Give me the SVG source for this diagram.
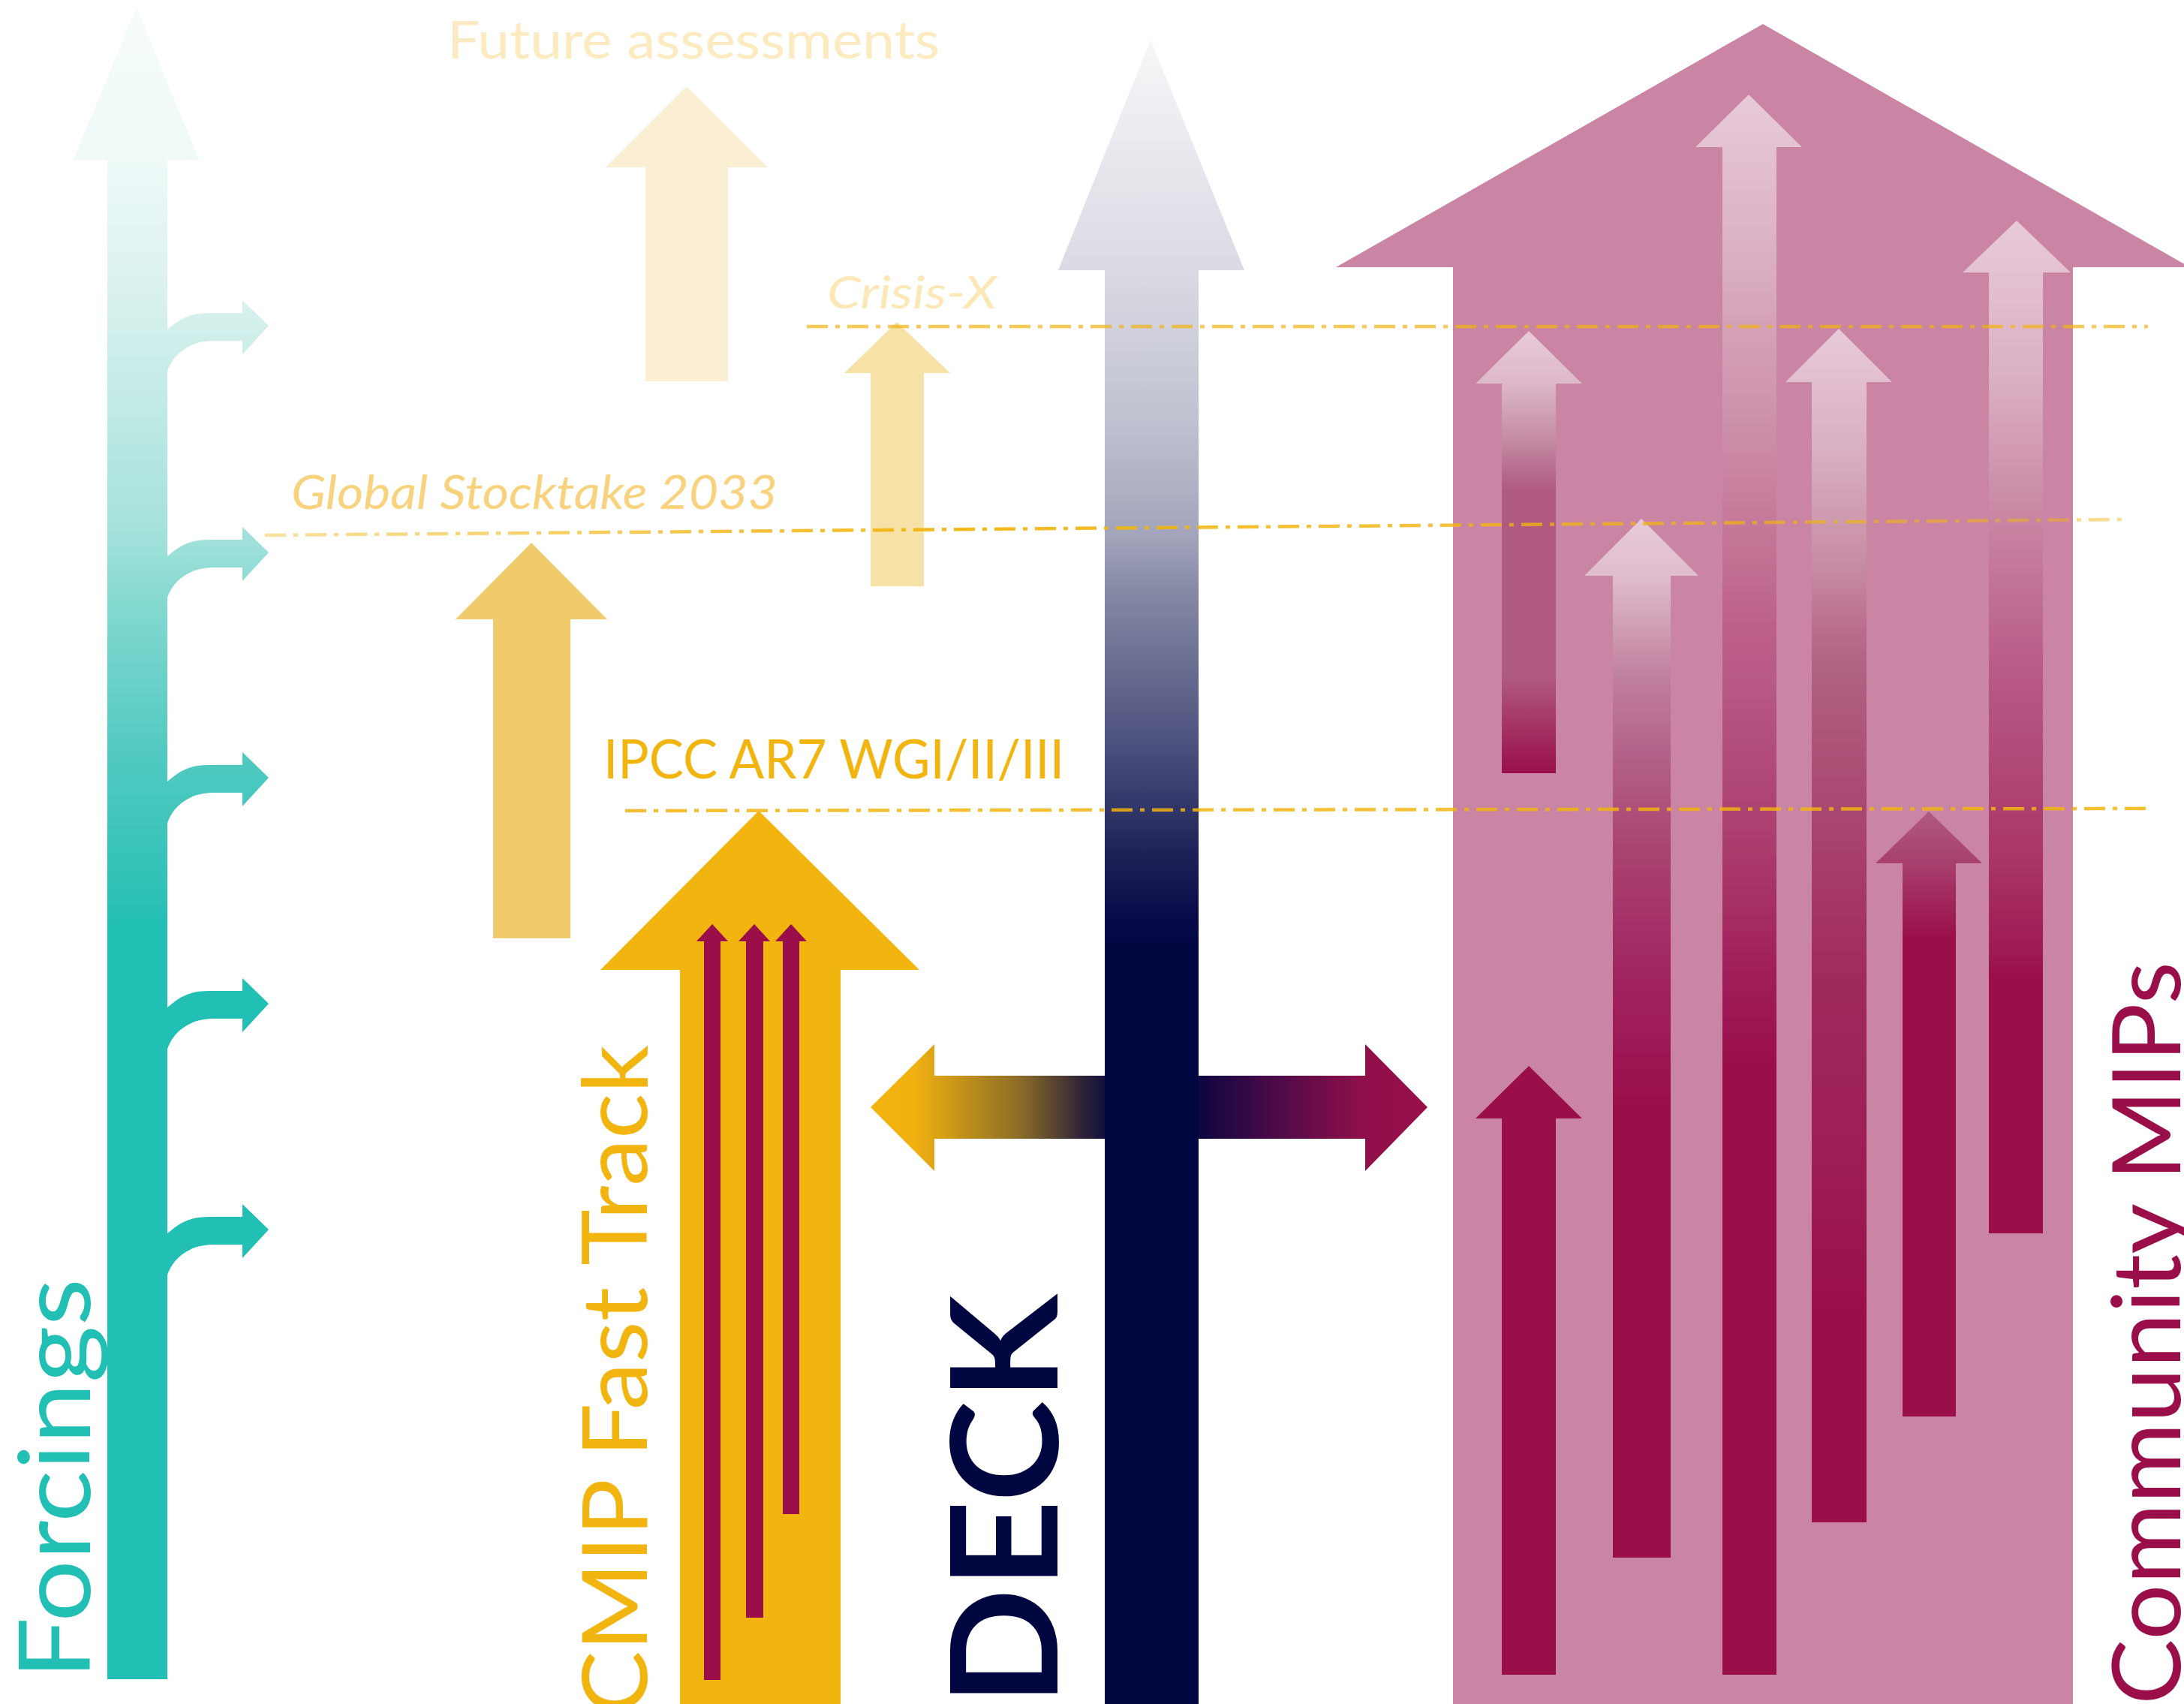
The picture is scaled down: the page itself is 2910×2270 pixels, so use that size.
<svg xmlns="http://www.w3.org/2000/svg" width="2910" height="2270" viewBox="0 0 2910 2270">
<style>
.lbl{font-family:Lato,"Open Sans","Liberation Sans",sans-serif;}
.it{font-style:italic;}
.dash{fill:none;stroke:#F2B40F;stroke-width:4.5;stroke-dasharray:28 10 6 10;}
</style>
<defs>
<linearGradient id="gForc" gradientUnits="userSpaceOnUse" x1="0" y1="9" x2="0" y2="1230">
<stop offset="0" stop-color="#F7FCFC"/><stop offset="0.167" stop-color="#EEF9F8"/><stop offset="0.32" stop-color="#D8F1EE"/><stop offset="0.566" stop-color="#A6E2DC"/><stop offset="0.648" stop-color="#85D9D1"/><stop offset="0.812" stop-color="#52CAC1"/><stop offset="0.98" stop-color="#2BC0B6"/><stop offset="1" stop-color="#22BFB5"/>
</linearGradient>
<linearGradient id="gDeck" gradientUnits="userSpaceOnUse" x1="0" y1="52" x2="0" y2="1268">
<stop offset="0" stop-color="#F7F7F9"/><stop offset="0.253" stop-color="#D9DAE3"/><stop offset="0.417" stop-color="#C0C2D0"/><stop offset="0.543" stop-color="#A2A5BB"/><stop offset="0.603" stop-color="#878AA5"/><stop offset="0.78" stop-color="#4A4E7C"/><stop offset="0.89" stop-color="#1F2258"/><stop offset="0.963" stop-color="#080A48"/><stop offset="1" stop-color="#000640"/>
</linearGradient>
<linearGradient id="gHor" gradientUnits="userSpaceOnUse" x1="1160" y1="0" x2="1902" y2="0">
<stop offset="0" stop-color="#F2B40F"/><stop offset="0.08" stop-color="#F0B010"/><stop offset="0.27" stop-color="#8A6C28"/><stop offset="0.385" stop-color="#2A2038"/><stop offset="0.45" stop-color="#000640"/><stop offset="0.59" stop-color="#0D0640"/><stop offset="0.72" stop-color="#4A0A48"/><stop offset="0.88" stop-color="#8E0F4A"/><stop offset="1" stop-color="#9A0F4A"/>
</linearGradient>
<linearGradient id="gA" gradientUnits="userSpaceOnUse" x1="0" y1="440" x2="0" y2="1030">
<stop offset="0" stop-color="#E8CAD8"/><stop offset="0.12" stop-color="#DDB8C9"/><stop offset="0.25" stop-color="#C38AA3"/><stop offset="0.36" stop-color="#B05A80"/><stop offset="0.78" stop-color="#B05A80"/><stop offset="1" stop-color="#9A0F4A"/>
</linearGradient>
<linearGradient id="gC" gradientUnits="userSpaceOnUse" x1="0" y1="692" x2="0" y2="1474">
<stop offset="0" stop-color="#E8CAD8"/><stop offset="0.097" stop-color="#DFBDCC"/><stop offset="0.202" stop-color="#CC98AE"/><stop offset="0.266" stop-color="#C0809F"/><stop offset="0.413" stop-color="#B25F86"/><stop offset="0.56" stop-color="#AA4470"/><stop offset="0.78" stop-color="#A02460"/><stop offset="1" stop-color="#9A0F4A"/>
</linearGradient>
<linearGradient id="gD" gradientUnits="userSpaceOnUse" x1="0" y1="126" x2="0" y2="1420">
<stop offset="0" stop-color="#E8CAD8"/><stop offset="0.134" stop-color="#DDB5C6"/><stop offset="0.328" stop-color="#CD92AC"/><stop offset="0.444" stop-color="#C57898"/><stop offset="0.56" stop-color="#BC5E87"/><stop offset="0.598" stop-color="#B85A86"/><stop offset="0.776" stop-color="#AA3C6C"/><stop offset="0.907" stop-color="#A01E58"/><stop offset="1" stop-color="#9A0F4A"/>
</linearGradient>
<linearGradient id="gE" gradientUnits="userSpaceOnUse" x1="0" y1="439" x2="0" y2="1750">
<stop offset="0" stop-color="#E8CAD8"/><stop offset="0.123" stop-color="#D9AFC1"/><stop offset="0.237" stop-color="#C78DA4"/><stop offset="0.313" stop-color="#B86A8A"/><stop offset="0.352" stop-color="#B06080"/><stop offset="0.527" stop-color="#A8406C"/><stop offset="0.657" stop-color="#A02A5C"/><stop offset="0.81" stop-color="#9D2057"/><stop offset="1" stop-color="#9A0F4A"/>
</linearGradient>
<linearGradient id="gF" gradientUnits="userSpaceOnUse" x1="0" y1="1081" x2="0" y2="1250">
<stop offset="0" stop-color="#B05A80"/><stop offset="0.4" stop-color="#A8406E"/><stop offset="1" stop-color="#9A0F4A"/>
</linearGradient>
<linearGradient id="gG" gradientUnits="userSpaceOnUse" x1="0" y1="294" x2="0" y2="1300">
<stop offset="0" stop-color="#E8CAD8"/><stop offset="0.205" stop-color="#DBB0C3"/><stop offset="0.354" stop-color="#CC8FA9"/><stop offset="0.503" stop-color="#C06E93"/><stop offset="0.602" stop-color="#B85A86"/><stop offset="0.831" stop-color="#AA3868"/><stop offset="0.97" stop-color="#9E1A52"/><stop offset="1" stop-color="#9A0F4A"/>
</linearGradient>
<linearGradient id="gGst" gradientUnits="userSpaceOnUse" x1="353" y1="0" x2="2830" y2="0">
<stop offset="0" stop-color="#F2B40F" stop-opacity="0.4"/><stop offset="0.35" stop-color="#F2B40F" stop-opacity="0.95"/><stop offset="0.75" stop-color="#F2B40F" stop-opacity="0.75"/><stop offset="1" stop-color="#F2B40F" stop-opacity="0.45"/>
</linearGradient>
</defs>

<g id="forcings">
<path fill="url(#gForc)" d="M98,213 L182,9 L265,213 L223,213 L223,2237 L143,2237 L143,213 Z"/>
<path fill="url(#gForc)" d="M222,440 C238,426 250,417 280,417 L323,417 L323,400 L358,434 L323,472 L323,454 L285,454 C250,454 228,474 222,498 Z"/>
<path fill="url(#gForc)" d="M222,742 C238,728 250,719 280,719 L323,719 L323,702 L358,736 L323,774 L323,756 L285,756 C250,756 228,776 222,800 Z"/>
<path fill="url(#gForc)" d="M222,1042 C238,1028 250,1019 280,1019 L323,1019 L323,1002 L358,1036 L323,1074 L323,1056 L285,1056 C250,1056 228,1076 222,1100 Z"/>
<path fill="url(#gForc)" d="M222,1343 C238,1329 250,1320 280,1320 L323,1320 L323,1303 L358,1337 L323,1375 L323,1357 L285,1357 C250,1357 228,1377 222,1401 Z"/>
<path fill="url(#gForc)" d="M222,1644 C238,1630 250,1621 280,1621 L323,1621 L323,1604 L358,1638 L323,1676 L323,1658 L285,1658 C250,1658 228,1678 222,1702 Z"/>
<text class="lbl" x="0" y="0" transform="translate(120,2237) rotate(-90)" font-size="131" fill="#22BFB5" textLength="534" lengthAdjust="spacingAndGlyphs">Forcings</text>
</g>

<g id="future-assessments">
<path fill="#FAEFD3" d="M807,223 L915,115 L1023,223 L970,223 L970,508 L860,508 L860,223 Z"/>
<text class="lbl" x="596" y="78" font-size="70" fill="#FCEAC0" textLength="656" lengthAdjust="spacingAndGlyphs">Future assessments</text>
</g>

<g id="crisis-x">
<path fill="#F6E1A6" d="M1125,497 L1195,429 L1266,497 L1231,497 L1231,781 L1160,781 L1160,497 Z"/>
<text class="lbl it" x="1102" y="411" font-size="60" fill="#FCE8B6" textLength="226" lengthAdjust="spacingAndGlyphs">Crisis-X</text>
</g>

<g id="global-stocktake">
<path fill="#EFCB6C" d="M607,825 L708,723 L809,825 L760,825 L760,1250 L657,1250 L657,825 Z"/>
<text class="lbl it" x="388" y="678" font-size="63" fill="#F8D27C" textLength="648" lengthAdjust="spacingAndGlyphs">Global Stocktake 2033</text>
</g>

<g id="ipcc-ar7">
<text class="lbl" x="804" y="1037" font-size="71" fill="#F2B40F" textLength="614" lengthAdjust="spacingAndGlyphs">IPCC AR7 WGI/II/III</text>
</g>

<g id="cmip-fast-track">
<path fill="#F2B40F" d="M800,1292 L1011,1080 L1225,1292 L1120,1292 L1120,2270 L906,2270 L906,1292 Z"/>
<path fill="#9A0F4A" d="M928,1254 L949,1231 L970,1254 L960,1254 L960,2238 L938,2238 L938,1254 Z"/>
<path fill="#9A0F4A" d="M984,1254 L1005,1231 L1026,1254 L1017,1254 L1017,2155 L994,2155 L994,1254 Z"/>
<path fill="#9A0F4A" d="M1033,1254 L1054,1231 L1075,1254 L1065,1254 L1065,2017 L1043,2017 L1043,1254 Z"/>
<text class="lbl" x="0" y="0" transform="translate(862,2284) rotate(-90)" font-size="121" fill="#F2B40F" textLength="892" lengthAdjust="spacingAndGlyphs">CMIP Fast Track</text>
</g>

<g id="deck">
<path fill="url(#gHor)" d="M1160,1475 L1245,1391 L1245,1433 L1819,1433 L1819,1391 L1902,1475 L1819,1560 L1819,1517 L1245,1517 L1245,1560 Z"/>
<path fill="url(#gDeck)" d="M1410,360 L1533,53 L1658,360 L1597,360 L1597,2270 L1472,2270 L1472,360 Z"/>
<text class="lbl" x="0" y="0" transform="translate(1409,2272) rotate(-90)" font-size="197" font-weight="bold" fill="#000640" textLength="547" lengthAdjust="spacingAndGlyphs">DECK</text>
</g>

<g id="community-mips">
<path fill="#CA85A5" d="M1780,356 L2349,32 L2918,356 L2762,356 L2762,2270 L1936,2270 L1936,356 Z"/>
<path fill="url(#gA)" d="M1966,511 L2037,441 L2108,511 L2073,511 L2073,1030 L2001,1030 L2001,511 Z"/>
<path fill="#9A0F4A" d="M1966,1490 L2037,1420 L2108,1490 L2073,1490 L2073,2231 L2001,2231 L2001,1490 Z"/>
<path fill="url(#gC)" d="M2111,767 L2187,691 L2263,767 L2226,767 L2226,2075 L2149,2075 L2149,767 Z"/>
<path fill="url(#gD)" d="M2259,196 L2330,126 L2401,196 L2367,196 L2367,2231 L2295,2231 L2295,196 Z"/>
<path fill="url(#gE)" d="M2379,509 L2450,438 L2521,509 L2487,509 L2487,2028 L2414,2028 L2414,509 Z"/>
<path fill="url(#gF)" d="M2499,1150 L2570,1081 L2641,1150 L2606,1150 L2606,1887 L2535,1887 L2535,1150 Z"/>
<path fill="url(#gG)" d="M2615,363 L2687,294 L2759,363 L2722,363 L2722,1643 L2650,1643 L2650,363 Z"/>
<text class="lbl" x="0" y="0" transform="translate(2905,2271) rotate(-90)" font-size="126" fill="#9A0F4A" textLength="990" lengthAdjust="spacingAndGlyphs">Community MIPs</text>
</g>

<g id="connectors">
<line class="dash" x1="1075" y1="435" x2="2862" y2="435" stroke-opacity="0.7"/>
<line class="dash" x1="353" y1="713" x2="2830" y2="692" style="stroke:url(#gGst)"/>
<line class="dash" x1="833" y1="1080" x2="2863" y2="1077" stroke-opacity="0.85"/>
</g>
</svg>
